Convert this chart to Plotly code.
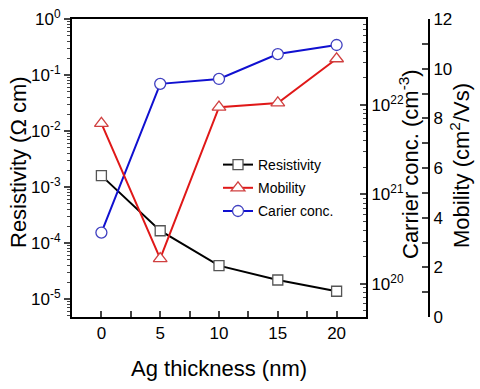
import plotly.graph_objects as go

thickness = [0, 5, 10, 15, 20]
resistivity = [1.6e-3, 1.66e-4, 3.96e-5, 2.19e-5, 1.38e-5]
mobility = [7.8, 2.35, 8.45, 8.62, 10.4]
carrier = [3.74e20, 1.72e22, 1.95e22, 3.7e22, 4.67e22]

res_ticks = [1e-5, 1e-4, 1e-3, 1e-2, 1e-1, 1e0]
res_labels = ["10<sup>-5</sup>", "10<sup>-4</sup>", "10<sup>-3</sup>", "10<sup>-2</sup>", "10<sup>-1</sup>", "10<sup>0</sup>"]
car_ticks = [1e20, 1e21, 1e22]
car_labels = ["10<sup>20</sup>", "10<sup>21</sup>", "10<sup>22</sup>"]
mob_ticks = [0, 2, 4, 6, 8, 10, 12]

def log_minors(lo, hi):
    out = []
    for e in range(lo, hi):
        for k in range(2, 10):
            out.append(k * 10.0 ** e)
    return out

FONT = "Liberation Sans, Arial, sans-serif"
W, H = 480, 389
L, R, T, B = 72, 40, 19, 72
PW, PH = W - L - R, H - T - B

def px(x):
    return (x - L) / PW

def py(y):
    return 1 - (y - T) / PH

fig = go.Figure()
fig.add_trace(go.Scatter(
    x=thickness, y=resistivity, name="Resistivity", mode="lines+markers",
    line=dict(color="black", width=2),
    marker=dict(symbol="square", size=10, color="white", line=dict(color="#555555", width=1.3)),
    yaxis="y", legendgroup="a"))
fig.add_trace(go.Scatter(
    x=thickness, y=mobility, name="Mobility", mode="lines+markers",
    line=dict(color="#e01818", width=2),
    marker=dict(symbol="triangle-up", size=12, color="white", line=dict(color="#d04040", width=1.3)),
    yaxis="y3", legendgroup="b"))
fig.add_trace(go.Scatter(
    x=thickness, y=carrier, name="Carier conc.", mode="lines+markers",
    line=dict(color="#1010d0", width=2),
    marker=dict(symbol="circle", size=11, color="white", line=dict(color="#4040c0", width=1.3)),
    yaxis="y2", legendgroup="c"))

title_font = dict(family=FONT, size=22, color="black")
annotations = [
    dict(text="Ag thickness (nm)", x=px(219), y=py(368), xref="paper", yref="paper",
         showarrow=False, font=title_font, xanchor="center", yanchor="middle"),
    dict(text="Resistivity (Ω cm)", x=px(19), y=py(162), xref="paper", yref="paper",
         showarrow=False, font=title_font, textangle=-90, xanchor="center", yanchor="middle"),
    dict(text="Carrier conc. (cm<sup>-3</sup>)", x=px(409), y=py(164), xref="paper", yref="paper",
         showarrow=False, font=title_font, textangle=-90, xanchor="center", yanchor="middle"),
    dict(text="Mobility (cm<sup>2</sup>/Vs)", x=px(460), y=py(166), xref="paper", yref="paper",
         showarrow=False, font=title_font, textangle=-90, xanchor="center", yanchor="middle"),
]

xdom_end = px(366)
fig.update_layout(
    width=W, height=H,
    margin=dict(l=L, r=R, t=T, b=B, autoexpand=False),
    paper_bgcolor="white", plot_bgcolor="white",
    font=dict(family=FONT, color="black", size=17),
    showlegend=True,
    annotations=annotations,
    legend=dict(x=px(218), y=py(149), xanchor="left", yanchor="top",
                bgcolor="rgba(0,0,0,0)", font=dict(size=14), tracegroupgap=2),
    xaxis=dict(domain=[0, xdom_end], range=[-2.5, 22.5], tickvals=thickness, automargin=False,
               ticks="inside", ticklen=6, tickwidth=1.5, showline=True, linewidth=2, linecolor="black",
               mirror=True, showgrid=False, zeroline=False,
               minor=dict(tickmode="array", tickvals=[-2.5, 2.5, 7.5, 12.5, 17.5, 22.5], ticks="inside", ticklen=6, tickwidth=1.5)),
    yaxis=dict(type="log", range=[-5.32, 0], tickmode="array", tickvals=res_ticks, ticktext=res_labels,
               automargin=False,
               ticks="outside", ticklen=6, tickwidth=1.5, showline=True, linewidth=2, linecolor="black",
               showgrid=False, zeroline=False,
               minor=dict(tickmode="array", tickvals=log_minors(-6, 0), ticks="outside", ticklen=3, tickwidth=1.2)),
    yaxis2=dict(type="log", range=[19.63, 22.96], overlaying="y", side="right", anchor="x",
                automargin=False,
                tickmode="array", tickvals=car_ticks, ticktext=car_labels,
                ticks="inside", ticklen=6, tickwidth=1.5, showline=True, linewidth=2, linecolor="black",
                showgrid=False, zeroline=False,
                minor=dict(tickmode="array", tickvals=log_minors(19, 23), ticks="inside", ticklen=3, tickwidth=1.2)),
    yaxis3=dict(range=[0, 12], overlaying="y", side="right", anchor="free", position=px(429),
                automargin=False,
                tickmode="array", tickvals=mob_ticks,
                ticks="inside", ticklen=6, tickwidth=1.5, showline=True, linewidth=2, linecolor="black",
                showgrid=False, zeroline=False,
                minor=dict(tickmode="array", tickvals=[1, 3, 5, 7, 9, 11], ticks="inside", ticklen=6, tickwidth=1.5)),
)
fig.write_html("out.html", config={"displayModeBar": False},
               post_script="document.body.style.margin='0';document.body.style.overflow='hidden';")
